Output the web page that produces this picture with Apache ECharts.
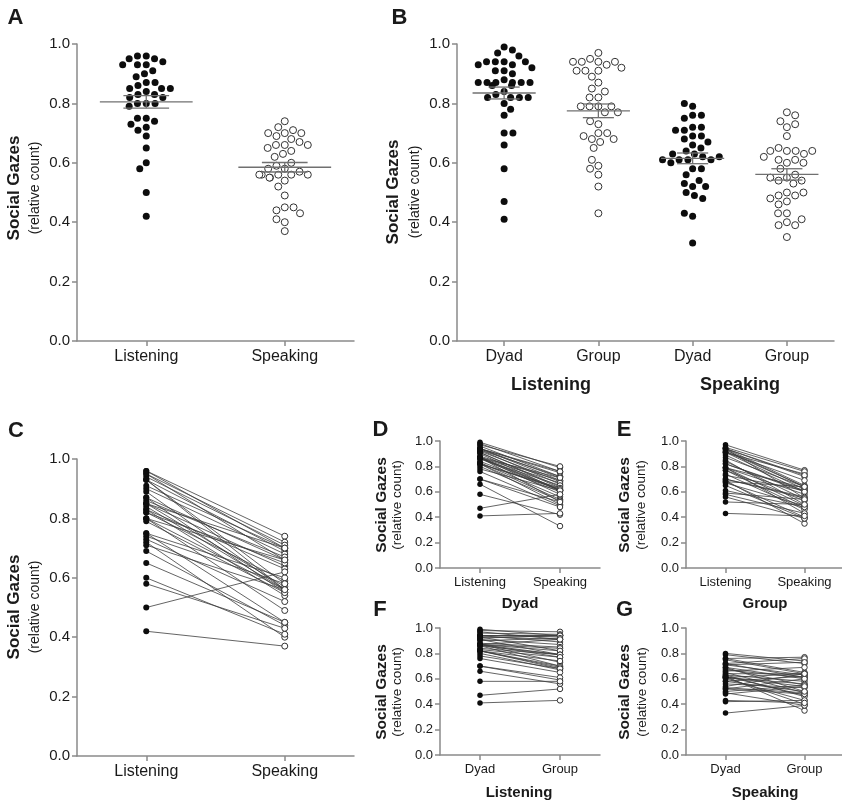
<!DOCTYPE html>
<html><head><meta charset="utf-8">
<script src="https://cdn.jsdelivr.net/npm/echarts@6/dist/echarts.min.js"></script>
<style>html,body{margin:0;padding:0;background:#fff}#c{width:842px;height:803px}</style>
</head><body><div id="c"></div>
<script>
// ---------------- data ----------------
const catsListenSpeak = ['Listening', 'Speaking'];
const catsB = ['Dyad', 'Group', 'Dyad', 'Group'];
const groupLabelsB = ['Listening', 'Speaking'];
const catsDyadGroup = ['Dyad', 'Group'];
const panelSubTitles = ['Dyad', 'Group', 'Listening', 'Speaking']; // under D, E, F, G
const panelLetters = ['A', 'B', 'C', 'D', 'E', 'F', 'G'];
const yTitle = 'Social Gazes';
const ySubTitle = '(relative count)';

// Panel A / C (paired per subject)
const listening = [0.96,0.96,0.95,0.95,0.94,0.93,0.93,0.93,0.91,0.90,0.89,0.87,0.87,0.86,0.85,0.85,0.85,0.84,0.83,0.83,0.82,0.82,0.80,0.80,0.80,0.79,0.75,0.75,0.74,0.73,0.72,0.71,0.69,0.65,0.60,0.58,0.50,0.42];
const speaking  = [0.70,0.74,0.72,0.66,0.71,0.58,0.69,0.56,0.70,0.68,0.56,0.66,0.55,0.67,0.64,0.57,0.70,0.56,0.63,0.54,0.65,0.59,0.56,0.66,0.49,0.55,0.45,0.60,0.58,0.52,0.40,0.56,0.44,0.45,0.41,0.43,0.62,0.37];
const meanA = [0.805, 0.585];
const semA  = [0.021, 0.016];

// Panel B / D-G (paired per subject)
const listenDyad  = [0.99,0.98,0.97,0.96,0.94,0.94,0.94,0.94,0.93,0.93,0.92,0.91,0.91,0.90,0.88,0.87,0.87,0.87,0.87,0.87,0.87,0.86,0.86,0.84,0.83,0.82,0.82,0.82,0.82,0.80,0.78,0.76,0.70,0.70,0.66,0.58,0.47,0.41];
const listenGroup = [0.94,0.97,0.91,0.95,0.93,0.94,0.89,0.94,0.91,0.82,0.94,0.87,0.79,0.92,0.85,0.79,0.91,0.77,0.84,0.73,0.82,0.79,0.70,0.79,0.77,0.74,0.68,0.70,0.69,0.67,0.68,0.65,0.59,0.61,0.56,0.58,0.52,0.43];
const speakDyad   = [0.79,0.76,0.80,0.72,0.75,0.71,0.69,0.76,0.66,0.72,0.68,0.64,0.63,0.61,0.69,0.71,0.58,0.62,0.61,0.67,0.52,0.65,0.61,0.60,0.56,0.63,0.54,0.50,0.62,0.53,0.61,0.49,0.48,0.52,0.33,0.42,0.58,0.43];
const speakGroup  = [0.72,0.77,0.74,0.76,0.64,0.73,0.60,0.65,0.69,0.61,0.55,0.64,0.58,0.64,0.50,0.63,0.62,0.47,0.54,0.61,0.60,0.49,0.56,0.43,0.53,0.46,0.64,0.55,0.35,0.49,0.40,0.39,0.54,0.48,0.39,0.43,0.50,0.41];
const meanB = [0.835, 0.775, 0.615, 0.561];
const semB  = [0.020, 0.023, 0.018, 0.019];

// ---------------- styling / layout ----------------
const FONT = "'Liberation Sans', Arial, Helvetica, sans-serif";
const AX = '#8a8a8a';
const TXT = '#1a1a1a';
const filled = { color: '#0d0d0d', opacity: 1 };
const open = { color: '#fff', borderColor: '#333', borderWidth: 1, opacity: 1 };

const grids = [
  { left: 77,  top: 44,  width: 277, height: 297 }, // A
  { left: 457, top: 44,  width: 377, height: 297 }, // B
  { left: 77,  top: 459, width: 277, height: 297 }, // C
  { left: 440, top: 441, width: 160, height: 127 }, // D
  { left: 686, top: 441, width: 158, height: 127 }, // E
  { left: 440, top: 628, width: 160, height: 127 }, // F
  { left: 686, top: 628, width: 158, height: 127 }  // G
].map(g => Object.assign({ containLabel: false, outerBoundsMode: 'none' }, g));

function xCat(i, data, fs, jitter) {
  return {
    type: 'category', gridIndex: i, data: data, boundaryGap: true,
    axisLine: { show: true, lineStyle: { color: AX, width: 1.5 } },
    axisTick: { show: true, alignWithLabel: true, length: 5, lineStyle: { color: AX, width: 1.5 } },
    axisLabel: { color: TXT, fontSize: fs, fontFamily: FONT, margin: 8, interval: 0 },
    splitLine: { show: false },
    jitter: jitter || 0, jitterOverlap: false, jitterMargin: 1.8
  };
}
function yVal(i, fs) {
  return {
    type: 'value', gridIndex: i, min: 0, max: 1, interval: 0.2,
    axisLine: { show: true, lineStyle: { color: AX, width: 1.5 } },
    axisTick: { show: true, length: 5, lineStyle: { color: AX, width: 1.5 } },
    axisLabel: { color: TXT, fontSize: fs, fontFamily: FONT, margin: 7, formatter: v => v.toFixed(1) },
    splitLine: { show: false }
  };
}

function meanSemRender(params, api) {
  const i = api.value(0), m = api.value(1), s = api.value(2);
  const c = api.coord([i, m]);
  const t = api.coord([i, m + s]);
  const b = api.coord([i, m - s]);
  const bw = api.size([1, 0])[0];
  const half = bw * 0.335, cap = bw * 0.165;
  const st = { stroke: '#707070', lineWidth: 1.3 };
  return { type: 'group', children: [
    { type: 'line', shape: { x1: c[0] - half, y1: c[1], x2: c[0] + half, y2: c[1] }, style: st },
    { type: 'line', shape: { x1: c[0], y1: t[1], x2: c[0], y2: b[1] }, style: st },
    { type: 'line', shape: { x1: c[0] - cap, y1: t[1], x2: c[0] + cap, y2: t[1] }, style: st },
    { type: 'line', shape: { x1: c[0] - cap, y1: b[1], x2: c[0] + cap, y2: b[1] }, style: st }
  ]};
}
function pairRender(params, api) {
  const a = api.coord([0, api.value(1)]);
  const b = api.coord([1, api.value(2)]);
  return { type: 'line', shape: { x1: a[0], y1: a[1], x2: b[0], y2: b[1] },
           style: { stroke: '#3c3c3c', lineWidth: 0.8 } };
}

const series = [];
function swarm(idx, cat, values, style, size) {
  series.push({ type: 'scatter', xAxisIndex: idx, yAxisIndex: idx, data: values.map(v => [cat, v]),
    symbol: 'circle', symbolSize: size, itemStyle: style, z: 3, silent: true });
}
function meanSem(idx, means, sems) {
  series.push({ type: 'custom', xAxisIndex: idx, yAxisIndex: idx, renderItem: meanSemRender,
    data: means.map((m, i) => [i, m, sems[i]]), z: 5, silent: true });
}
function paired(idx, a, b, size) {
  series.push({ type: 'custom', xAxisIndex: idx, yAxisIndex: idx, renderItem: pairRender,
    data: a.map((v, i) => [0, v, b[i]]), z: 2, silent: true });
  swarm(idx, 0, a, filled, size);
  swarm(idx, 1, b, open, size);
}

// A
swarm(0, 0, listening, filled, 7);
swarm(0, 1, speaking, open, 7);
meanSem(0, meanA, semA);
// B
swarm(1, 0, listenDyad, filled, 7);
swarm(1, 1, listenGroup, open, 7);
swarm(1, 2, speakDyad, filled, 7);
swarm(1, 3, speakGroup, open, 7);
meanSem(1, meanB, semB);
// C - G
paired(2, listening, speaking, 6);
paired(3, listenDyad, speakDyad, 5.5);
paired(4, listenGroup, speakGroup, 5.5);
paired(5, listenDyad, listenGroup, 5.5);
paired(6, speakDyad, speakGroup, 5.5);

// ---------------- text ----------------
function txt(x, y, text, font, rot) {
  return { type: 'text', x: x, y: y, rotation: rot || 0, silent: true,
    style: { text: text, font: font, fill: TXT, align: 'center', verticalAlign: 'middle',
             textAlign: 'center', textVerticalAlign: 'middle' } };
}
const letterPos = [[15.5,17.5],[399.5,17.5],[16,430.5],[380.5,429.5],[624,429.5],[380,610],[624.5,610]];
const titlePos = [ // [titleX, subX, centerY, big]
  [14, 35.5, 188, true], [393, 415.5, 192, true], [14, 35.5, 607, true],
  [382, 397.5, 505, false], [625, 641, 505, false], [382, 397.5, 692, false], [625, 642, 692, false]
];
const graphics = [];
panelLetters.forEach((L, i) => graphics.push(txt(letterPos[i][0], letterPos[i][1], L, 'bold 22px ' + FONT)));
titlePos.forEach(p => {
  graphics.push(txt(p[0], p[2], yTitle, 'bold ' + (p[3] ? 17 : 15.5) + 'px ' + FONT, Math.PI / 2));
  graphics.push(txt(p[1], p[2], ySubTitle, (p[3] ? 14 : 13.5) + 'px ' + FONT, Math.PI / 2));
});
graphics.push(txt(551, 385, groupLabelsB[0], 'bold 18px ' + FONT));
graphics.push(txt(740, 385, groupLabelsB[1], 'bold 18px ' + FONT));
const subPos = [[520, 604], [765, 604], [519, 793], [765, 793]];
panelSubTitles.forEach((t, i) => graphics.push(txt(subPos[i][0], subPos[i][1], t, 'bold 15px ' + FONT)));

const option = {
  animation: false,
  backgroundColor: '#fff',
  grid: grids,
  xAxis: [
    xCat(0, catsListenSpeak, 16, 62),
    xCat(1, catsB, 16, 62),
    xCat(2, catsListenSpeak, 16),
    xCat(3, catsListenSpeak, 13),
    xCat(4, catsListenSpeak, 13),
    xCat(5, catsDyadGroup, 13),
    xCat(6, catsDyadGroup, 13)
  ],
  yAxis: [yVal(0, 15), yVal(1, 15), yVal(2, 15), yVal(3, 13), yVal(4, 13), yVal(5, 13), yVal(6, 13)],
  series: series,
  graphic: graphics
};
const chart = echarts.init(document.getElementById('c'), null, { renderer: 'canvas' });
chart.setOption(option);
</script>
</body></html>
